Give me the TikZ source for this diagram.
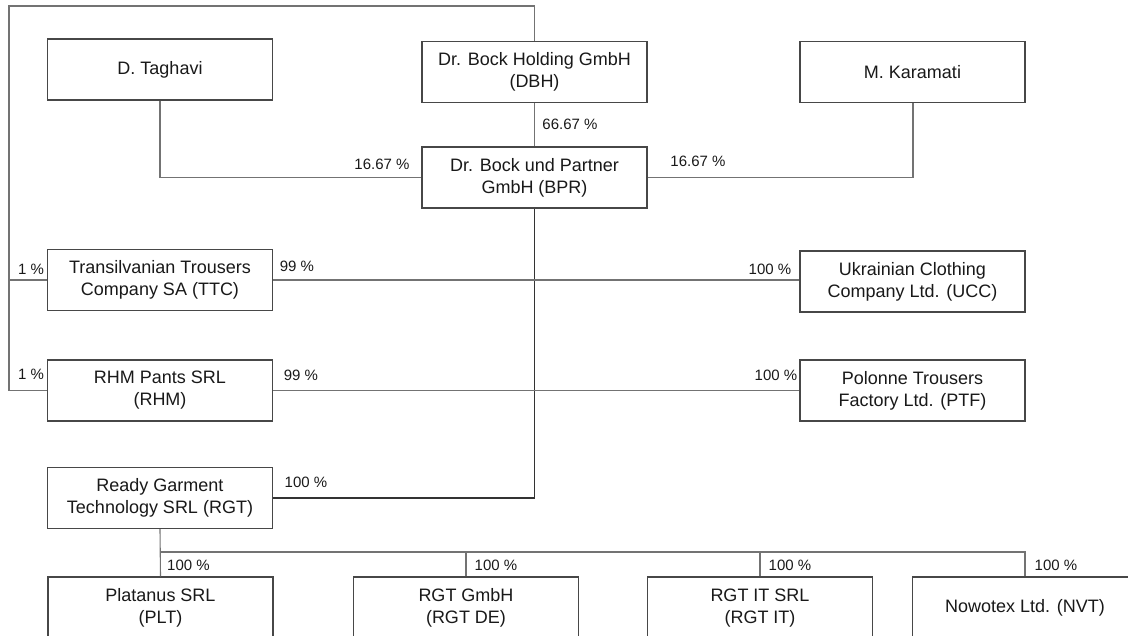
\documentclass[tikz,border=0pt]{standalone}
\usepackage{fontspec}
\setmainfont{Liberation Sans}
\begin{document}
\begin{tikzpicture}[x=1pt,y=-1pt,
  box/.style={draw=black!72, line width=1.1pt, fill=white, minimum width=225pt,
    minimum height=61pt, inner sep=0pt, align=center,
    font=\fontsize{18}{22}\selectfont, text=black!90},
  conn/.style={draw=black!55, line width=1.1pt},
  mainconn/.style={draw=black!80, line width=1.1pt},
  pct/.style={font=\fontsize{15}{18}\selectfont, inner sep=0pt, text=black!90}]
\useasboundingbox (0,0) rectangle (1128,636);
\clip (0,0) rectangle (1128,636);

% boxes
\node[box] (TAG) at (160,69.5) {D. Taghavi};
\node[box] (DBH) at (534.5,72) {Dr. Bock Holding GmbH\\(DBH)};
\node[box] (KAR) at (912.5,72) {M. Karamati};
\node[box] (BPR) at (534.5,177.5) {Dr. Bock und Partner\\GmbH (BPR)};
\node[box] (TTC) at (160,280) {Transilvanian Trousers\\Company SA (TTC)};
\node[box] (UCC) at (912.5,281.5) {Ukrainian Clothing\\Company Ltd. (UCC)};
\node[box] (RHM) at (160,390.5) {RHM Pants SRL\\(RHM)};
\node[box] (PTF) at (912.5,390.5) {Polonne Trousers\\Factory Ltd. (PTF)};
\node[box] (RGT) at (160,498) {Ready Garment\\Technology SRL (RGT)};
\node[box, minimum height=62pt] (PLT) at (160.5,608) {Platanus SRL\\(PLT)};
\node[box, minimum height=62pt] (RDE) at (466,608) {RGT GmbH\\(RGT DE)};
\node[box, minimum height=62pt] (RIT) at (760,608) {RGT IT SRL\\(RGT IT)};
\node[box, minimum height=62pt] (NVT) at (1025,608) {Nowotex Ltd. (NVT)};

% helper coordinates
\coordinate (tl) at (9,6);
\coordinate (bus) at (1025,552);

% outer loop from DBH
\draw[conn] (DBH.north) |- (tl) |- (RHM.west);
\draw[conn] (tl) |- (TTC.west);

% shareholders of BPR
\draw[conn] (DBH.south) -- (BPR.north);
\draw[conn] (TAG.south) |- (BPR.west);
\draw[conn] ([xshift=0.5pt]KAR.south) |- (BPR.east);

% BPR to RGT
\draw[mainconn] (BPR.south) |- (RGT.east);

% horizontal ownership lines
\draw[conn] (TTC.east) -- (TTC.east -| UCC.west);
\draw[conn] (RHM.east) -- (RHM.east -| PTF.west);

% RGT subsidiaries bus
\draw[conn] (RGT.south) -- (PLT.north);
\draw[conn] (RGT.south |- bus) -- (bus) -- (NVT.north);
\draw[conn] (RDE.north) -- (RDE.north |- bus);
\draw[conn] (RIT.north) -- (RIT.north |- bus);

% percentage labels
\node[pct] (l1) at (570,124) {66.67 \%};
\node[pct] (l2) at (382,164) {16.67 \%};
\node[pct] (l3) at (698,161) {16.67 \%};
\node[pct] (l4) at (31,269) {1 \%};
\node[pct] (l5) at (297,266) {99 \%};
\node[pct] (l6) at (770,269) {100 \%};
\node[pct] (l7) at (31,374) {1 \%};
\node[pct] (l8) at (301,375) {99 \%};
\node[pct] (l9) at (776,375) {100 \%};
\node[pct] (l10) at (306,482) {100 \%};
\node[pct] (l11) at (188.5,565) {100 \%};
\node[pct] (l12) at (496,565) {100 \%};
\node[pct] (l13) at (790,565) {100 \%};
\node[pct] (l14) at (1056,565) {100 \%};
\end{tikzpicture}
\end{document}
